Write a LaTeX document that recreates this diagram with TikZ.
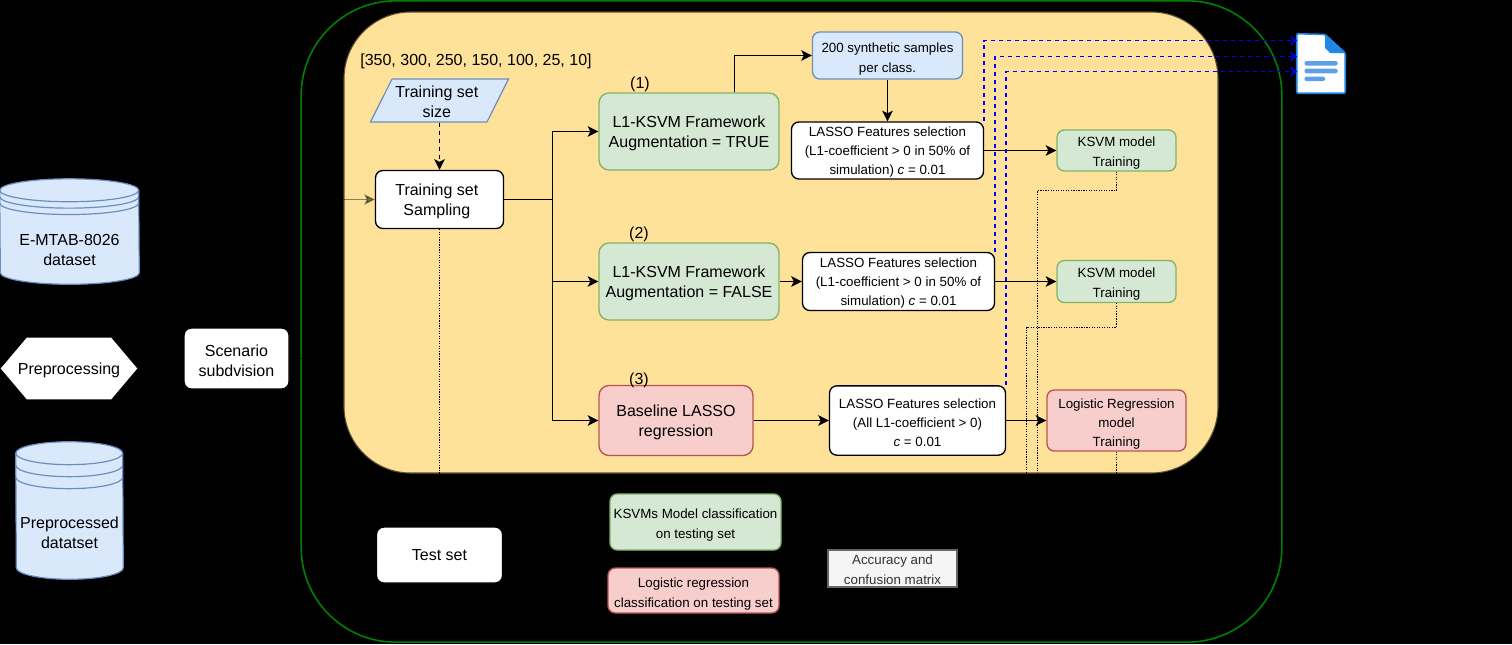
\documentclass[tikz,border=0pt]{standalone}
\usepackage{fontspec}
\setmainfont{Liberation Sans}
\usetikzlibrary{arrows.meta,shapes.geometric,backgrounds}

\definecolor{bluefill}{HTML}{DAE8FC}
\definecolor{blueline}{HTML}{6C8EBF}
\definecolor{greenfill}{HTML}{D5E8D4}
\definecolor{greenline}{HTML}{82B366}
\definecolor{redfill}{HTML}{F8CECC}
\definecolor{redline}{HTML}{B85450}
\definecolor{panelfill}{HTML}{FFE299}
\definecolor{panelline}{HTML}{5A5030}
\definecolor{outerline}{HTML}{008000}
\definecolor{docblue}{HTML}{1E88E5}
\definecolor{docpale}{HTML}{5E9FE8}

\tikzset{
  big/.style={font=\fontsize{12}{15}\selectfont, align=center},
  small/.style={font=\fontsize{10}{15}\selectfont, align=center},
  tight/.style={font=\fontsize{10}{14.25}\selectfont, align=center},
  box/.style={draw, rectangle, rounded corners=5.5pt, line width=1pt, inner sep=0pt},
  whitebox/.style={box, fill=white},
  greenbox/.style={box, fill=greenfill, draw=greenline},
  redbox/.style={box, fill=redfill, draw=redline},
  bluebox/.style={box, fill=bluefill, draw=blueline},
  dbbody/.style={inner sep=0pt, big},
  flow/.style={-{Stealth[length=8pt,width=8pt,inset=2pt]}, line width=1.15pt},
  dashflow/.style={flow, dashed},
  dotflow/.style={densely dotted, line width=0.9pt},
  export/.style={-{To[length=5pt,width=7pt]}, blue, dashed, line width=1.25pt}
}

% first line of a node sits a little lower
\newcommand{\lft}[1]{\rule{0pt}{#1pt}}

% cylinder behind a named node
\newcommand{\datastore}[4]{
  \begin{scope}[on background layer]
    \draw[blueline, fill=bluefill, line width=0.9pt]
      ([yshift=#3]#1.north west) arc[start angle=180, end angle=0, x radius=#2, y radius=8.6pt]
      -- ([yshift=8.6pt]#1.south east) arc[start angle=0, end angle=-180, x radius=#2, y radius=8.6pt]
      -- cycle;
    \foreach \k in {0,1,2}
      \draw[blueline, line width=0.9pt] ([yshift=#3-\k*#4]#1.north west)
        arc[start angle=180, end angle=360, x radius=#2, y radius=8.6pt];
  \end{scope}
}

\begin{document}
\begin{tikzpicture}[x=0.75pt, y=-0.75pt]
  \useasboundingbox (0,0) rectangle (1512,644);
  \begin{scope}[on background layer]
    \fill[black] (0,0) rectangle (1512,644);
  \end{scope}

  % panels
  \node[draw=outerline, rectangle, rounded corners=71pt, line width=1.2pt, minimum width=735.5pt, minimum height=481pt, inner sep=0pt] (outer) at (791.5,321.5) {};
  \node[draw=panelline, fill=panelfill, rectangle, rounded corners=50pt, line width=0.8pt, minimum width=655.5pt, minimum height=345.75pt, inner sep=0pt] (panel) at (781,242.5) {};

  % left column
  \node[dbbody, minimum width=104.25pt, minimum height=51pt] (dataset) at (69.5,250) {E-MTAB-8026\\dataset};
  \datastore{dataset}{52.1pt}{19.1pt}{4.8pt}
  \node[big, inner sep=0pt, minimum width=102pt, minimum height=45.75pt] (preproc) at (69,368.5) {\lft{11}Preprocessing};
  \begin{scope}[on background layer]
    \fill[white] (preproc.west) -- ([xshift=19.5pt]preproc.north west) -- ([xshift=-19.5pt]preproc.north east) -- (preproc.east)
      -- ([xshift=-19.5pt]preproc.south east) -- ([xshift=19.5pt]preproc.south west) -- cycle;
  \end{scope}
  \node[dbbody, minimum width=80.25pt, minimum height=69.75pt] (preprocessed) at (69.5,532.5) {Preprocessed\\datatset};
  \datastore{preprocessed}{40.1pt}{24.4pt}{9pt}
  \node[whitebox, big, minimum width=78.75pt, minimum height=45.75pt] (scenario) at (236.5,358.5) {\lft{12}Scenario\\subdvision};

  % training set side
  \node[big] (sizes) at (476,59) {\lft{12}[350, 300, 250, 150, 100, 25, 10]};
  \node[trapezium, trapezium left angle=59, trapezium right angle=121, trapezium stretches=true, draw=blueline, fill=bluefill, big, line width=0.9pt, inner sep=0pt, minimum width=104.25pt, minimum height=32.25pt] (size) at (439.5,100.5) {\lft{10}Training set\hspace*{4pt}\\size\hspace*{4pt}};
  \node[whitebox, big, minimum width=96pt, minimum height=43.5pt] (sampling) at (439.5,199.5) {\lft{12}Training set\hspace*{4pt}\\Sampling\hspace*{4pt}};

  % the three scenarios
  \node[greenbox, big, rounded corners=7.5pt, minimum width=135pt, minimum height=57.75pt] (frameaug) at (689,131.5) {\lft{12}L1-KSVM Framework\\Augmentation = TRUE};
  \node[greenbox, big, rounded corners=7.5pt, minimum width=135pt, minimum height=57.75pt] (framenoaug) at (689,281.5) {\lft{12}L1-KSVM Framework\\Augmentation = FALSE};
  \node[redbox, big, rounded corners=7.5pt, minimum width=115.5pt, minimum height=52.5pt] (baseline) at (676,420.5) {\lft{12}Baseline LASSO\\regression};
  \node[big] (numa) at (640,82) {\lft{12}(1)};
  \node[big] (numb) at (639,232) {\lft{12}(2)};
  \node[big] (numc) at (639,378) {\lft{12}(3)};

  \node[bluebox, small, minimum width=112.5pt, minimum height=35.25pt] (synth) at (887.5,55.5) {\lft{12}200 synthetic samples\\per class.};
  \node[whitebox, tight, minimum width=144pt, minimum height=42.75pt] (lassoa) at (887.5,150.5) {\lft{10.2}LASSO Features selection\\(L1-coefficient > 0 in 50\% of\\simulation) \textit{c} = 0.01};
  \node[whitebox, tight, minimum width=144pt, minimum height=43.5pt] (lassob) at (898.5,281.5) {\lft{10.2}LASSO Features selection\\(L1-coefficient > 0 in 50\% of\\simulation) \textit{c} = 0.01};
  \node[whitebox, tight, minimum width=132pt, minimum height=52pt] (lassoc) at (917.5,420.5) {\lft{10.2}LASSO Features selection\\(All L1-coefficient > 0)\\\textit{c} = 0.01};

  \node[greenbox, small, minimum width=89.25pt, minimum height=30.75pt] (ksvma) at (1116.5,150.5) {\lft{11}KSVM model\\Training};
  \node[greenbox, small, minimum width=89.25pt, minimum height=31.5pt] (ksvmb) at (1116.5,281.5) {\lft{11}KSVM model\\Training};
  \node[redbox, tight, minimum width=104.25pt, minimum height=45.75pt] (logreg) at (1116.5,420.5) {\lft{12}Logistic Regression\\model\\Training};

  % bottom row
  \node[whitebox, big, minimum width=94.5pt, minimum height=42pt] (testset) at (439.5,555) {Test set};
  \node[greenbox, small, minimum width=128.25pt, minimum height=42pt] (ksvmclass) at (695.5,522) {\lft{12}KSVMs Model classification\\on testing set};
  \node[redbox, small, minimum width=128.25pt, minimum height=33.75pt] (logclass) at (693.5,590.5) {\lft{12.5}Logistic regression\\classification on testing set};
  \node[draw=black!60, fill=black!4, rectangle, small, text=black!80, line width=0.9pt, inner sep=0pt, minimum width=96.75pt, minimum height=27.75pt] (accuracy) at (892.5,568.5) {\lft{8.5}Accuracy and\\confusion matrix};

  % output file
  \node[minimum width=36pt, minimum height=44.25pt, inner sep=0pt] (docfile) at (1321,63.5) {};
  \draw[docblue, fill=white, line width=1.2pt, rounded corners=1pt] (docfile.north west) -- (1325,34.5) -- (docfile.east |- 0,53) -- (docfile.south east) -- (docfile.south west) -- cycle;
  \fill[docblue] (1325,34.5) -- (1345,53) -- (1330,53) -- (1325,48) -- cycle;
  \fill[docpale, rounded corners=1pt] (1304.5,61) rectangle (1337.5,65.5);
  \fill[docpale, rounded corners=1pt] (1304.5,68.7) rectangle (1337.5,73.3);
  \fill[docpale, rounded corners=1pt] (1304.5,76.7) rectangle (1325,81);

  % connectors
  \coordinate (split) at (552.5,199.5);
  \coordinate (inbend) at (322.5,358.5);
  \coordinate (docina) at (1297,40.5);
  \coordinate (docinb) at (1297,56.5);
  \coordinate (docinc) at (1297,71.5);
  \coordinate (kneea) at (1116.5,190.5);
  \coordinate (kneeb) at (1116.5,327.5);
  \coordinate (dropa) at (1037.5,522);
  \coordinate (dropb) at (1026.5,522);
  \coordinate (dropc) at (1116.5,590.5);

  \draw[flow, opacity=0.45] (scenario) -- (inbend) |- (sampling);
  \draw[dashflow] (size) -- (sampling);
  \draw[flow] (sampling) -- (split) |- (frameaug);
  \draw[flow] (split) |- (framenoaug);
  \draw[flow] (split) |- (baseline);
  \draw[flow] ([xshift=34.1pt]frameaug.north) |- (synth);
  \draw[flow] (synth) -- (lassoa);
  \draw[flow] (framenoaug) -- (lassob);
  \draw[flow] (baseline) -- (lassoc);
  \draw[flow] (lassoa) -- (lassoa -| ksvma.west);
  \draw[flow] (lassob) -- (lassob -| ksvmb.west);
  \draw[flow] (lassoc) -- (lassoc -| logreg.west);

  \draw[dotflow] (sampling) -- (testset);
  \draw[dotflow] (ksvma) -- (kneea) -| (dropa) -- (ksvmclass);
  \draw[dotflow] (ksvmb) -- (kneeb) -| (dropb) -- (ksvmclass);
  \draw[dotflow] (logreg) -- (dropc) -- (logclass);

  \draw[export] (lassoa.north east) |- (docina);
  \draw[export] (lassob.north east) |- (docinb);
  \draw[export] (lassoc.north east) |- (docinc);
\end{tikzpicture}
\end{document}
